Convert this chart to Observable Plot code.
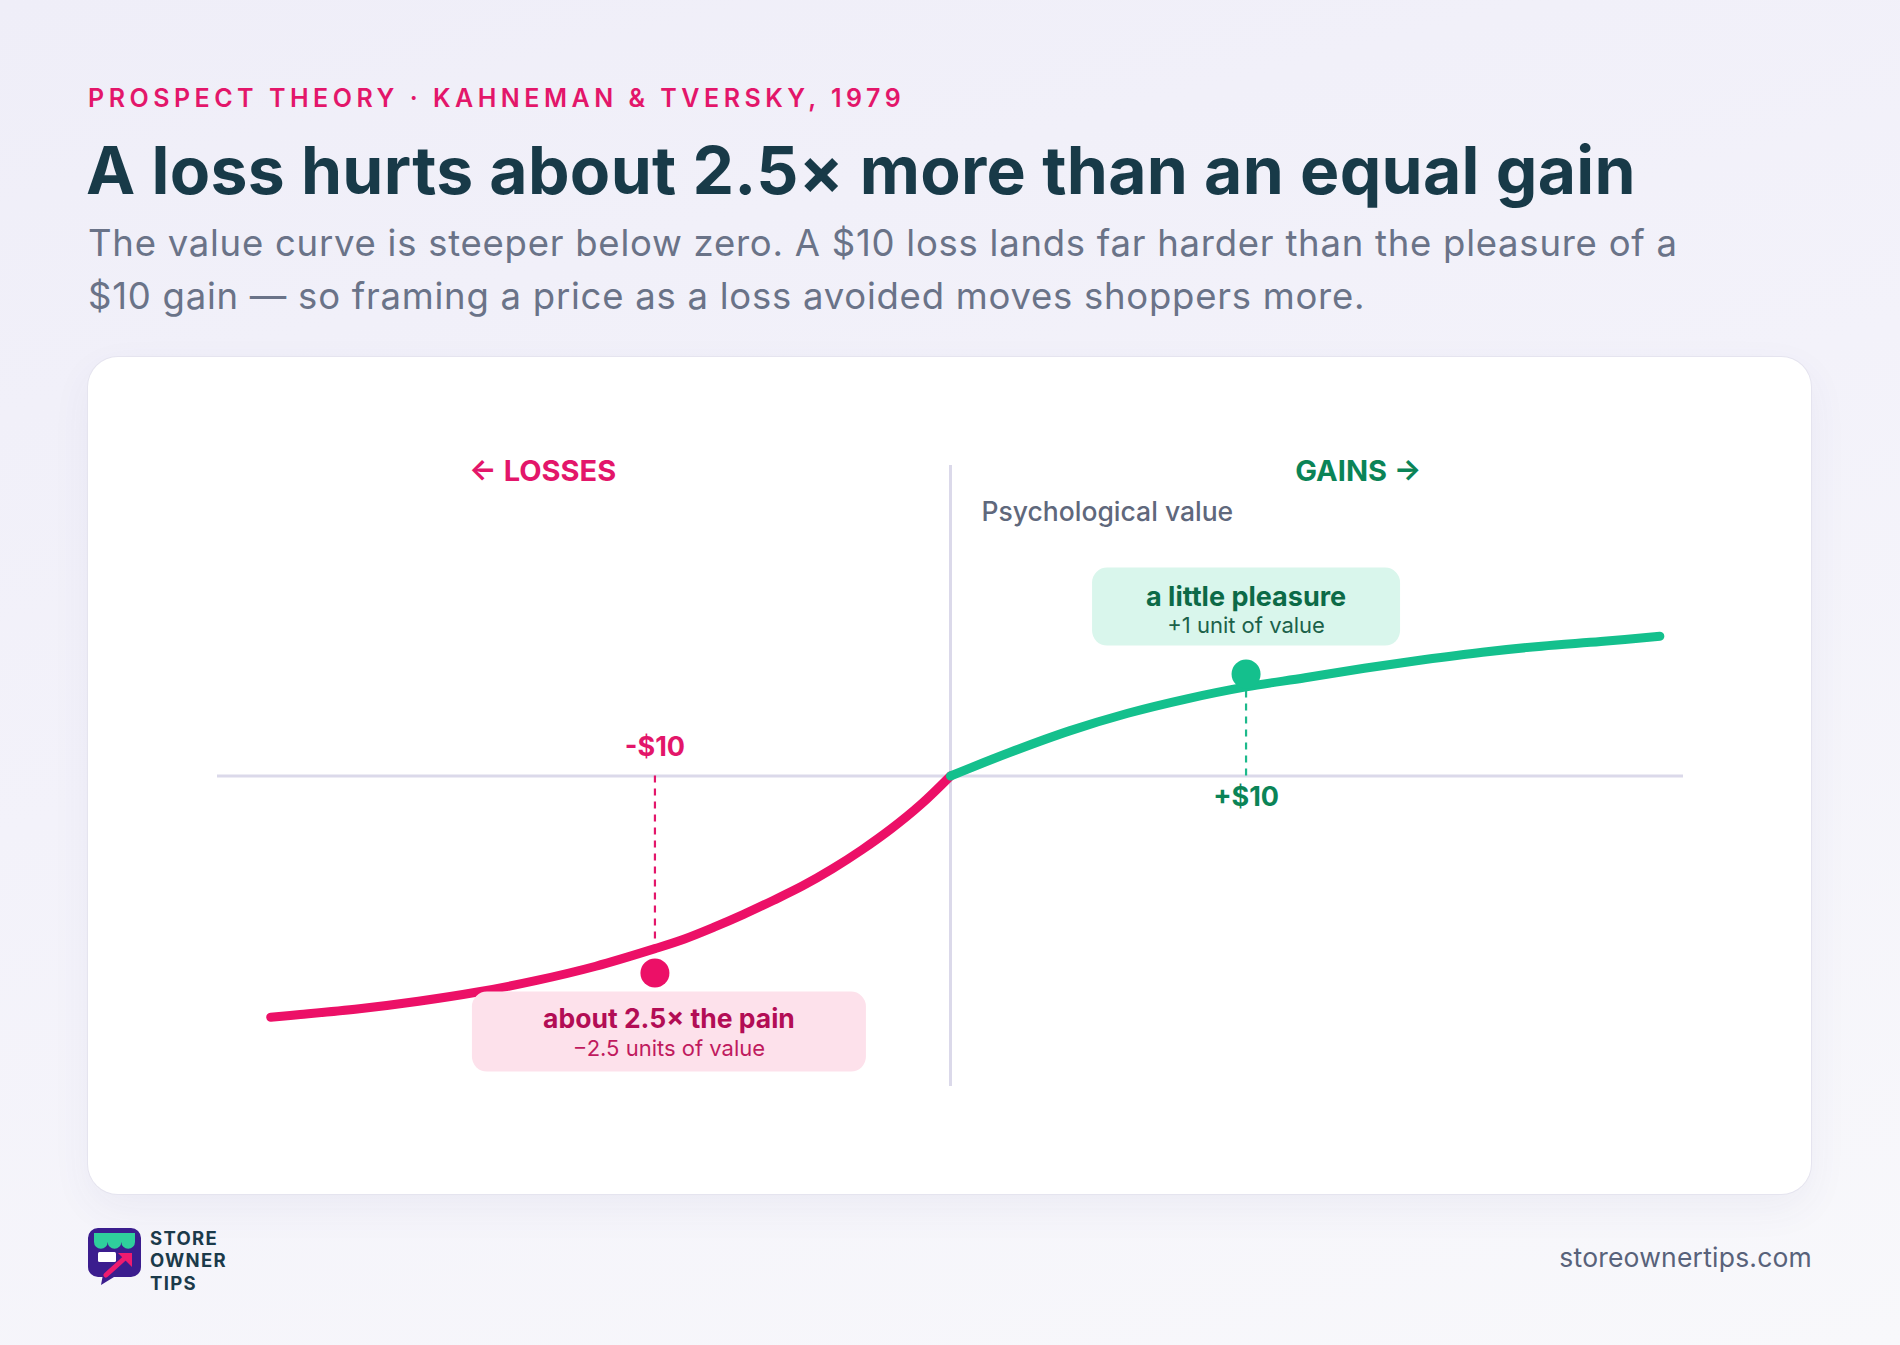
<!DOCTYPE html>
<html>
<head>
<meta charset="utf-8">
<script src="https://cdn.jsdelivr.net/npm/d3@7"></script>
<script src="https://cdn.jsdelivr.net/npm/@observablehq/plot@0.6"></script>
<style>
  html, body { margin: 0; padding: 0; }
  body {
    width: 1900px; height: 1345px; overflow: hidden;
    background: linear-gradient(165deg, #efeef8 0%, #f3f2fa 45%, #f8f8fb 100%);
    font-family: Inter, "Noto Sans", sans-serif;
    position: relative;
  }
  .eyebrow {
    position: absolute; left: 88px; top: 86px;
    font-size: 25px; line-height: 25px; font-weight: 600;
    letter-spacing: 4.5px; color: #e3166a;
  }
  h1 {
    position: absolute; left: 86px; top: 137px; margin: 0;
    font-size: 66px; line-height: 66px; font-weight: 700;
    letter-spacing: 0.3px; color: #183a48; white-space: nowrap;
  }
  .sub {
    position: absolute; left: 88px; top: 217px; margin: 0;
    font-size: 36.5px; line-height: 53px; font-weight: 400;
    letter-spacing: 0.75px; color: #6a7388; white-space: nowrap;
  }
  .card {
    position: absolute; left: 88px; top: 357px; width: 1723px; height: 837px;
    background: #ffffff; border-radius: 30px;
    box-shadow: 0 0 0 1px #e5e4ef, 0 14px 40px rgba(70, 60, 140, 0.06);
  }
  .card svg { position: absolute; left: 0; top: 0; }
  .brand { position: absolute; left: 87px; top: 1227px; }
  .wordmark { position: absolute; left: 150px; top: 1225px; overflow: visible; }
  .url {
    position: absolute; right: 88px; top: 1242px;
    font-size: 26.5px; line-height: 30px; color: #58627a; letter-spacing: 0.2px;
  }
</style>
</head>
<body>
<div class="eyebrow">PROSPECT THEORY · KAHNEMAN &amp; TVERSKY, 1979</div>
<h1>A loss hurts about 2.5× more than an equal gain</h1>
<p class="sub">The value curve is steeper below zero. A $10 loss lands far harder than the pleasure of a<br>$10 gain — so framing a price as a loss avoided moves shoppers more.</p>
<div class="card" id="chart"></div>

<svg class="brand" width="56" height="60" viewBox="0 0 56 60">
  <path d="M11 1 H44 A10 10 0 0 1 54 11 V40 A10 10 0 0 1 44 50 H27 L14 58 L15.5 50 H11 A10 10 0 0 1 1 40 V11 A10 10 0 0 1 11 1 Z" fill="#3b1d8e"/>
  <path d="M7 6 H48 V15 A6.83 6.83 0 0 1 34.33 15 A6.83 6.83 0 0 1 20.67 15 A6.83 6.83 0 0 1 7 15 Z" fill="#2fcf9c"/>
  <rect x="11" y="25" width="18" height="10" rx="1.5" fill="#ffffff"/>
  <path d="M19 48 L39 30" stroke="#ee1b6f" stroke-width="5" stroke-linecap="round"/>
  <path d="M31 26 H45 V40 Z" fill="#ee1b6f"/>
</svg>
<svg class="wordmark" width="90" height="70">
  <text font-family="Inter, 'Noto Sans', sans-serif" font-size="18.5" font-weight="700" fill="#1b3a4a" letter-spacing="1.3">
    <tspan x="0" y="19.5">STORE</tspan><tspan x="0" y="42">OWNER</tspan><tspan x="0" y="64.5">TIPS</tspan>
  </text>
</svg>
<div class="url">storeownertips.com</div>

<script>
// Value function: dollars gained or lost vs. psychological value (units)
const gainDollars = [0, 2, 4, 6, 8, 10, 12, 14, 16, 18, 20, 22, 24];
const gainValues  = [0, 0.13, 0.32, 0.51, 0.68, 0.83, 0.95, 1.08, 1.20, 1.31, 1.40, 1.47, 1.55];

const lossDollars = [0, -1, -2, -3, -4, -5, -6, -7, -8, -9, -10, -12, -14, -16, -18, -20, -22, -23];
const lossValues  = [0, -0.17, -0.40, -0.64, -0.88, -1.11, -1.32, -1.53, -1.73, -1.92, -2.08, -2.38, -2.63, -2.84, -3.01, -3.15, -3.26, -3.31];

// The two $10 call-outs
const markerDollars = [-10, 10];
const markerUnits   = [-2.5, 1];
const markerTicks   = ["-$10", "+$10"];
const markerTitles  = ["about 2.5× the pain", "a little pleasure"];
const markerNotes   = ["−2.5 units of value", "+1 unit of value"];

// Side headings
const sideLabels  = ["← LOSSES", "GAINS →"];
const sideDollars = [-13.8, 13.8];
const axisTitle   = "Psychological value";

const PINK = "#ec1067", PINK_TEXT = "#e3166a", PINK_DARK = "#b30d55", PINK_NOTE = "#c01a5e", PINK_BOX = "#fde1eb";
const GREEN = "#14c08d", GREEN_TEXT = "#0b8457", GREEN_DARK = "#0c6a47", GREEN_NOTE = "#1b6149", GREEN_BOX = "#d9f6ec";
const AXIS = "#dbd9ea";

const gains = gainDollars.map((x, i) => ({x, v: gainValues[i]}));
const losses = lossDollars.map((x, i) => ({x, v: lossValues[i]}));
const markers = markerDollars.map((x, i) => ({
  x, units: markerUnits[i], tick: markerTicks[i], title: markerTitles[i], note: markerNotes[i],
  curve: (x < 0 ? lossValues[lossDollars.indexOf(x)] : gainValues[gainDollars.indexOf(x)])
}));
const lossMarker = markers.filter(d => d.x < 0);
const gainMarker = markers.filter(d => d.x > 0);

// Rounded rectangle drawn as a dot symbol, so the call-out box follows its data point
const roundedBox = (w, h, r) => ({
  draw(ctx) {
    const x0 = -w / 2, y0 = -h / 2, x1 = w / 2, y1 = h / 2;
    ctx.moveTo(x0 + r, y0);
    ctx.lineTo(x1 - r, y0); ctx.arcTo(x1, y0, x1, y0 + r, r);
    ctx.lineTo(x1, y1 - r); ctx.arcTo(x1, y1, x1 - r, y1, r);
    ctx.lineTo(x0 + r, y1); ctx.arcTo(x0, y1, x0, y1 - r, r);
    ctx.lineTo(x0, y0 + r); ctx.arcTo(x0, y0, x0 + r, y0, r);
    ctx.closePath();
  }
});

const chart = Plot.plot({
  width: 1723,
  height: 837,
  marginTop: 108,
  marginBottom: 108,
  marginLeft: 129,
  marginRight: 128,
  x: {domain: [-24.8, 24.8], axis: null},
  y: {type: "pow", exponent: 0.72, domain: [-4.7, 4.7], axis: null},
  style: {fontFamily: "Inter, 'Noto Sans', sans-serif", background: "transparent", overflow: "visible"},
  marks: [
    // zero lines
    Plot.ruleY([0], {stroke: AXIS, strokeWidth: 3}),
    Plot.ruleX([0], {stroke: AXIS, strokeWidth: 3}),

    // dashed drop lines at ±$10
    Plot.ruleX(lossMarker, {x: "x", y1: 0, y2: "curve", stroke: PINK_TEXT, strokeWidth: 2.2, strokeDasharray: "7,6"}),
    Plot.ruleX(gainMarker, {x: "x", y1: 0, y2: "curve", stroke: "#1db98b", strokeWidth: 2.2, strokeDasharray: "7,6"}),

    // value curve
    Plot.line(losses, {x: "x", y: "v", curve: "catmull-rom", stroke: PINK, strokeWidth: 9, strokeLinecap: "round"}),
    Plot.line(gains, {x: "x", y: "v", curve: "catmull-rom", stroke: GREEN, strokeWidth: 9, strokeLinecap: "round"}),

    // call-out boxes
    Plot.dot(lossMarker, {x: "x", y: "units", r: 10, symbol: roundedBox(394, 80, 15), fill: PINK_BOX, dx: 14, dy: 58.5}),
    Plot.dot(gainMarker, {x: "x", y: "units", r: 10, symbol: roundedBox(308, 78, 15), fill: GREEN_BOX, dy: -67.5}),

    // call-out points
    Plot.dot(lossMarker, {x: "x", y: "units", r: 14.5, fill: PINK}),
    Plot.dot(gainMarker, {x: "x", y: "units", r: 14.5, fill: GREEN}),

    // call-out text
    Plot.text(lossMarker, {x: "x", y: "units", text: "title", dx: 14, dy: 54.5, lineAnchor: "bottom", fontSize: 26.5, fontWeight: 700, fill: PINK_DARK}),
    Plot.text(lossMarker, {x: "x", y: "units", text: "note", dx: 14, dy: 82.5, lineAnchor: "bottom", fontSize: 22, fontWeight: 400, fill: PINK_NOTE}),
    Plot.text(gainMarker, {x: "x", y: "units", text: "title", dy: -68.5, lineAnchor: "bottom", fontSize: 27, fontWeight: 700, fill: GREEN_DARK}),
    Plot.text(gainMarker, {x: "x", y: "units", text: "note", dy: -41.5, lineAnchor: "bottom", fontSize: 22, fontWeight: 400, fill: GREEN_NOTE}),

    // $ tick labels
    Plot.text(lossMarker, {x: "x", y: 0, text: "tick", dy: -29, fontSize: 27, fontWeight: 700, fill: PINK_TEXT}),
    Plot.text(gainMarker, {x: "x", y: 0, text: "tick", dy: 21, fontSize: 27, fontWeight: 700, fill: GREEN_TEXT}),

    // side headings and axis title
    Plot.text([sideLabels[0]], {x: () => sideDollars[0], text: d => d, frameAnchor: "top", dy: -5, fontSize: 29, fontWeight: 700, fill: PINK_TEXT}),
    Plot.text([sideLabels[1]], {x: () => sideDollars[1], text: d => d, frameAnchor: "top", dy: -5, fontSize: 29, fontWeight: 700, fill: GREEN_TEXT}),
    Plot.text([axisTitle], {x: () => 0, text: d => d, frameAnchor: "top", dx: 31, dy: 36.5, textAnchor: "start", fontSize: 26.5, fontWeight: 500, fill: "#5f687c"})
  ]
});

document.getElementById("chart").appendChild(chart);
</script>
</body>
</html>
